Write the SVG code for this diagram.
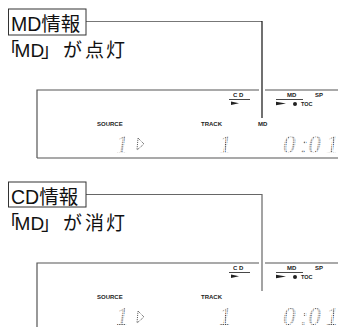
<svg xmlns="http://www.w3.org/2000/svg" width="338" height="327" viewBox="0 0 338 327">
<defs>
<pattern id="dp" width="1.8" height="1.8" patternUnits="userSpaceOnUse">
<rect x="0" y="0" width="1" height="1" fill="#333"/>
</pattern>
<style>
.lbl{font-family:"Liberation Sans","Noto Sans CJK JP",sans-serif;font-size:19.5px;fill:#111}
.sub{font-family:"Liberation Sans","Noto Sans CJK JP",sans-serif;font-size:19px;fill:#111}
.box{fill:#fff;stroke:#333;stroke-width:1}
.frame{stroke:#555;stroke-width:1.2;fill:none}
.sm{font-family:"Liberation Sans",Arial,sans-serif;font-size:6px;font-weight:bold;fill:#222}
.ul{stroke:#333;stroke-width:0.9}
.dig{font-family:"Liberation Serif","Times New Roman",serif;font-style:italic;font-size:25px;fill:url(#dp)}
.dots{fill:none;stroke:#333;stroke-width:0.9;stroke-dasharray:0.9 1}
.conn{fill:none;stroke-width:1.2}
</style>
</defs>
<rect width="338" height="327" fill="#fff"/>

<g id="connectors">
<line class="conn" x1="86" y1="21.5" x2="262" y2="21.5" stroke="#777"/>
<line class="conn" x1="262" y1="21" x2="262" y2="118" stroke="#111"/>
<line class="conn" x1="86" y1="194.5" x2="262" y2="194.5" stroke="#666"/>
<line class="conn" x1="262" y1="194" x2="262" y2="291" stroke="#666"/>
</g>

<g id="md-info">
<rect class="box" x="8.5" y="9" width="77.5" height="26"/>
<text class="lbl" x="11" y="31">MD情報</text>
<text class="sub" x="0 14.5 30.5 41 63 85 106" y="57">「MD」が点灯</text>
</g>

<g id="display-md">
<path class="frame" d="M37 158V90H259M265 90H338M37 158H338"/>
<text class="sm" x="97" y="125.5">SOURCE</text>
<text class="sm" x="201" y="125.5">TRACK</text>
<text class="sm" x="258" y="125.5">MD</text>
<text class="sm" x="233" y="97">C D</text>
<line class="ul" x1="229" y1="99.5" x2="250" y2="99.5"/>
<polygon points="231,101.5 239,103.3 231,105" fill="#222"/>
<text class="sm" x="287" y="97">MD</text>
<text class="sm" x="315" y="97">SP</text>
<line class="ul" x1="276" y1="99.5" x2="303" y2="99.5"/>
<polygon points="276,101.8 286,103.6 276,105.2" fill="#222"/>
<circle cx="295" cy="104" r="2" fill="#222"/>
<text class="sm" x="301" y="105.7" style="font-size:5.5px">TOC</text>
<text class="dig" x="116" y="153">1</text>
<path class="dots" d="M138 138L144 144L137 150Z"/>
<text class="dig" x="219" y="153">1</text>
<text class="dig" x="283" y="153">0</text>
<text class="dig" x="300" y="153">:0</text>
<text class="dig" x="326" y="153">1</text>
</g>

<g id="cd-info">
<rect class="box" x="8.5" y="182" width="77.5" height="25"/>
<text class="lbl" x="11" y="203.5">CD情報</text>
<text class="sub" x="0 14.5 30.5 41 63 85 106" y="230">「MD」が消灯</text>
</g>

<g id="display-cd">
<path class="frame" d="M37 327V263H259M265 263H338"/>
<text class="sm" x="97" y="298.5">SOURCE</text>
<text class="sm" x="201" y="298.5">TRACK</text>
<text class="sm" x="233" y="270">C D</text>
<line class="ul" x1="229" y1="272.5" x2="250" y2="272.5"/>
<polygon points="231,274.5 239,276.3 231,278" fill="#222"/>
<text class="sm" x="287" y="270">MD</text>
<text class="sm" x="315" y="270">SP</text>
<line class="ul" x1="276" y1="272.5" x2="303" y2="272.5"/>
<polygon points="276,274.8 286,276.6 276,278.2" fill="#222"/>
<circle cx="295" cy="277" r="2" fill="#222"/>
<text class="sm" x="301" y="278.7" style="font-size:5.5px">TOC</text>
<text class="dig" x="116" y="325">1</text>
<path class="dots" d="M138 311L144 317L137 323Z"/>
<text class="dig" x="219" y="325">1</text>
<text class="dig" x="283" y="325">0</text>
<text class="dig" x="300" y="325">:0</text>
<text class="dig" x="326" y="325">1</text>
</g>
</svg>
